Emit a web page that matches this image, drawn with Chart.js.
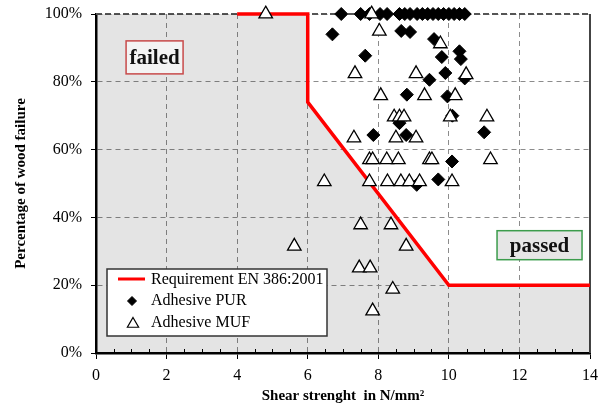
<!DOCTYPE html>
<html>
<head>
<meta charset="utf-8">
<script src="https://cdn.jsdelivr.net/npm/chart.js@4.4.1/dist/chart.umd.min.js"></script>
<style>
  html, body { margin: 0; padding: 0; background: #fff; }
  #wrap { width: 608px; height: 407px; }
</style>
</head>
<body>
<div id="wrap"><canvas id="c" width="608" height="407"></canvas></div>
<script>
// requirement EN 386:2001 (shear strength vs. wood failure)
var reqX = [4, 6, 6, 10, 14];
var reqY = [100, 100, 74, 20, 20];
// "failed" zone below the requirement line
var zoneX = [0, 6, 6, 10, 14];
var zoneY = [100, 100, 74, 20, 20];

// Adhesive PUR
var purX = [6.95, 7.5, 7.75, 8.05, 8.25, 8.6, 8.75, 8.9, 9.1, 9.25, 9.4, 9.55, 9.7, 9.85, 10.0, 10.15, 10.3, 10.45,
            6.7, 8.65, 8.9, 9.58, 7.63, 9.8, 10.3, 10.34, 9.9, 9.45, 10.45, 8.81, 9.96, 10.1, 8.6, 7.86, 8.79, 11.0, 10.09, 9.7, 9.09];
var purY = [100, 100, 100, 100, 100, 100, 100, 100, 100, 100, 100, 100, 100, 100, 100, 100, 100, 100,
            94, 95, 94.7, 92.6, 87.7, 87.3, 89, 86.7, 82.6, 80.6, 81, 76.2, 75.7, 70, 67.8, 64.3, 64.3, 65.1, 56.5, 51.2, 49.6];

// Adhesive MUF
var mufX = [4.81, 7.81, 8.03, 9.76, 7.34, 9.07, 10.49, 8.07, 9.31, 10.18, 8.45, 8.6, 8.73, 10.04, 11.08,
            7.31, 8.5, 9.07, 7.75, 7.84, 8.24, 8.57, 9.45, 9.52, 11.18, 7.75, 8.26, 8.64, 8.88, 9.17, 10.09,
            6.47, 7.5, 8.36, 5.62, 8.79, 7.46, 7.77, 8.41, 7.84];
var mufY = [100, 100, 94.9, 91.2, 82.4, 82.4, 82.1, 75.9, 75.9, 75.9, 69.6, 69.6, 69.6, 69.6, 69.6,
            63.4, 63.4, 63.4, 57, 57, 57, 57, 57, 57, 57, 50.5, 50.5, 50.5, 50.5, 50.5, 50.5,
            50.5, 37.8, 37.8, 31.5, 31.5, 25.1, 25.1, 18.8, 12.4];

var xTicks = [0, 2, 4, 6, 8, 10, 12, 14];
var yTicks = [0, 20, 40, 60, 80, 100];

function pts(xs, ys) {
  return xs.map(function (x, i) { return { x: x, y: ys[i] }; });
}

var serif = "'Liberation Serif', 'Times New Roman', serif";

// frame, minor ticks, zone labels and legend
var extras = {
  id: 'extras',
  beforeDatasetsDraw: function (chart) {
    var ctx = chart.ctx, a = chart.chartArea;
    ctx.save();
    ctx.strokeStyle = '#444';
    ctx.lineWidth = 2;
    ctx.beginPath();
    ctx.moveTo(a.right, a.top);
    ctx.lineTo(a.right, a.bottom);
    ctx.stroke();
    ctx.setLineDash([6, 3]);
    ctx.strokeStyle = '#555';
    ctx.beginPath();
    ctx.moveTo(a.left, a.top);
    ctx.lineTo(a.right, a.top);
    ctx.stroke();
    ctx.restore();
  },
  afterDraw: function (chart) {
    var ctx = chart.ctx, a = chart.chartArea;
    var xs = chart.scales.x, ys = chart.scales.y;
    ctx.save();
    // minor ticks on the x axis
    ctx.strokeStyle = '#000';
    ctx.lineWidth = 1;
    for (var v = 0.5; v < 14; v += 0.5) {
      if (v % 2 === 0) continue;
      var px = Math.round(xs.getPixelForValue(v)) + 0.5;
      ctx.beginPath();
      ctx.moveTo(px, a.bottom);
      ctx.lineTo(px, a.bottom - 4);
      ctx.stroke();
    }

    function tag(text, cx, cy, w, h, fill, border) {
      ctx.fillStyle = fill;
      ctx.fillRect(cx - w / 2, cy - h / 2, w, h);
      ctx.strokeStyle = border;
      ctx.lineWidth = 1.5;
      ctx.strokeRect(cx - w / 2, cy - h / 2, w, h);
      ctx.fillStyle = '#111';
      ctx.font = 'bold 21px ' + serif;
      ctx.textAlign = 'center';
      ctx.textBaseline = 'middle';
      ctx.fillText(text, cx, cy + 1);
    }
    tag('failed', xs.getPixelForValue(1.66), ys.getPixelForValue(87.2), 57, 33, '#f3f3f3', '#c84a4a');
    tag('passed', xs.getPixelForValue(12.57), ys.getPixelForValue(31.8), 85, 29, '#e6e6e6', '#3c9c4c');

    // legend box
    var lx = 107, ly = 269, lw = 220, lh = 67;
    ctx.fillStyle = '#fff';
    ctx.fillRect(lx, ly, lw, lh);
    ctx.strokeStyle = '#333';
    ctx.lineWidth = 1.5;
    ctx.strokeRect(lx, ly, lw, lh);
    ctx.font = '16px ' + serif;
    ctx.fillStyle = '#000';
    ctx.textAlign = 'left';
    ctx.textBaseline = 'middle';
    var ds = chart.data.datasets;
    ctx.strokeStyle = ds[1].borderColor;
    ctx.lineWidth = 3;
    ctx.beginPath();
    ctx.moveTo(118, 279);
    ctx.lineTo(145, 279);
    ctx.stroke();
    ctx.fillText(ds[1].label, 151, 280);
    ctx.strokeStyle = '#000';
    ctx.fillStyle = '#000';
    ctx.lineWidth = 1;
    Chart.helpers.drawPoint(ctx, { pointStyle: 'rectRot', radius: 4.5, borderWidth: 1 }, 132, 301);
    ctx.fillText(ds[2].label, 151, 301);
    ctx.fillStyle = '#fff';
    ctx.strokeStyle = '#000';
    ctx.lineWidth = 1.2;
    Chart.helpers.drawPoint(ctx, { pointStyle: 'triangle', radius: 6.5, borderWidth: 1.2 }, 133, 324);
    ctx.fillStyle = '#000';
    ctx.fillText(ds[3].label, 151, 323);
    ctx.restore();
  }
};

var ctx = document.getElementById('c').getContext('2d');
var chart = new Chart(ctx, {
  type: 'scatter',
  data: {
    datasets: [
      {
        type: 'line',
        label: 'zone',
        data: pts(zoneX, zoneY),
        fill: 'origin',
        backgroundColor: 'rgba(0,0,0,0.105)',
        borderWidth: 0,
        pointRadius: 0,
        tension: 0,
        order: 4
      },
      {
        type: 'line',
        label: 'Requirement EN 386:2001',
        data: pts(reqX, reqY),
        fill: false,
        borderColor: '#ff0000',
        borderWidth: 3.5,
        pointRadius: 0,
        tension: 0,
        clip: false,
        order: 3
      },
      {
        label: 'Adhesive PUR',
        data: pts(purX, purY),
        pointStyle: 'rectRot',
        pointRadius: 6.5,
        backgroundColor: '#000',
        borderColor: '#000',
        borderWidth: 1,
        clip: false,
        order: 2
      },
      {
        label: 'Adhesive MUF',
        data: pts(mufX, mufY),
        pointStyle: 'triangle',
        pointRadius: 7.8,
        backgroundColor: '#fff',
        borderColor: '#000',
        borderWidth: 1.3,
        clip: false,
        order: 1
      }
    ]
  },
  options: {
    responsive: false,
    animation: { duration: 0 },
    layout: { padding: { left: 0, top: 14, right: 18, bottom: 0 } },
    plugins: {
      legend: { display: false },
      tooltip: { enabled: false }
    },
    scales: {
      x: {
        type: 'linear',
        min: 0,
        max: 14,
        afterBuildTicks: function (s) { s.ticks = xTicks.map(function (v) { return { value: v }; }); },
        afterFit: function (s) { s.height = 54; s.paddingLeft = 0; s.paddingRight = 0; },
        ticks: { color: '#000', padding: 7, font: { family: serif, size: 16 } },
        grid: { color: '#8c8c8c', lineWidth: 1, tickLength: 6, tickColor: '#000', tickWidth: 1 },
        border: { color: '#000', width: 2.5, dash: [5, 4] },
        title: {
          display: true,
          text: 'Shear strenght  in N/mm\u00b2',
          color: '#000',
          font: { family: serif, size: 15, weight: 'bold' },
          padding: { top: 0, bottom: 2 }
        }
      },
      y: {
        min: 0,
        max: 100,
        afterBuildTicks: function (s) { s.ticks = yTicks.map(function (v) { return { value: v }; }); },
        afterFit: function (s) { s.width = 96; s.paddingTop = 0; s.paddingBottom = 0; },
        ticks: {
          color: '#000',
          padding: 9,
          font: { family: serif, size: 16 },
          callback: function (v) { return v + '%'; }
        },
        grid: { color: '#8c8c8c', lineWidth: 1, tickLength: 5, tickColor: '#000', tickWidth: 1 },
        border: { color: '#000', width: 2.5, dash: [5, 4] },
        title: {
          display: true,
          text: 'Percentage of wood failure',
          color: '#000',
          font: { family: serif, size: 15, weight: 'bold' },
          padding: { top: 12, bottom: 0 }
        }
      }
    }
  },
  plugins: [extras]
});
</script>
</body>
</html>
